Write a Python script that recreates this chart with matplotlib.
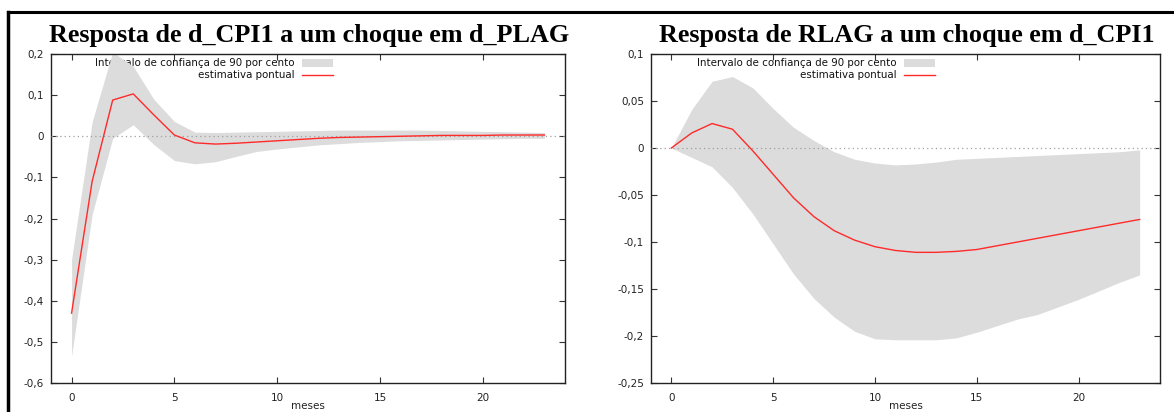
import matplotlib
matplotlib.use("Agg")
import matplotlib.pyplot as plt
from matplotlib.lines import Line2D
from matplotlib.patches import Rectangle
import numpy as np

# ---- data ----
meses = list(range(24))

# Left panel: Resposta de d_CPI1 a um choque em d_PLAG
cpi_est = [-0.430, -0.110, 0.088, 0.103, 0.052, 0.003, -0.016, -0.019, -0.017, -0.014,
           -0.011, -0.008, -0.005, -0.003, -0.002, -0.001, 0.000, 0.001, 0.002, 0.002,
           0.002, 0.003, 0.003, 0.003]
cpi_up = [-0.300, 0.035, 0.205, 0.170, 0.090, 0.036, 0.010, 0.009, 0.010, 0.011,
          0.012, 0.013, 0.014, 0.015, 0.015, 0.015, 0.015, 0.015, 0.014, 0.013,
          0.012, 0.011, 0.010, 0.009]
cpi_lo = [-0.535, -0.190, -0.005, 0.028, -0.020, -0.059, -0.067, -0.062, -0.049, -0.037,
          -0.031, -0.026, -0.021, -0.018, -0.015, -0.013, -0.011, -0.010, -0.009, -0.008,
          -0.007, -0.006, -0.005, -0.005]

# Right panel: Resposta de RLAG a um choque em d_CPI1
rlag_est = [0.000, 0.016, 0.026, 0.020, -0.003, -0.028, -0.053, -0.073, -0.088, -0.098,
            -0.105, -0.109, -0.111, -0.111, -0.110, -0.108, -0.104, -0.100, -0.096, -0.092,
            -0.088, -0.084, -0.080, -0.076]
rlag_up = [0.000, 0.041, 0.071, 0.076, 0.064, 0.042, 0.022, 0.008, -0.004, -0.012,
           -0.016, -0.018, -0.017, -0.015, -0.012, -0.011, -0.010, -0.009, -0.008, -0.007,
           -0.006, -0.005, -0.004, -0.002]
rlag_lo = [0.000, -0.010, -0.020, -0.042, -0.070, -0.102, -0.134, -0.160, -0.180, -0.195,
           -0.203, -0.204, -0.204, -0.204, -0.202, -0.196, -0.189, -0.182, -0.177, -0.169,
           -0.161, -0.152, -0.143, -0.135]

titles = ["Resposta de d_CPI1 a um choque em d_PLAG",
          "Resposta de RLAG a um choque em d_CPI1"]
left_yticks = [0.2, 0.1, 0, -0.1, -0.2, -0.3, -0.4, -0.5, -0.6]
left_ylabels = ["0,2", "0,1", "0", "-0,1", "-0,2", "-0,3", "-0,4", "-0,5", "-0,6"]
right_yticks = [0.1, 0.05, 0, -0.05, -0.1, -0.15, -0.2, -0.25]
right_ylabels = ["0,1", "0,05", "0", "-0,05", "-0,1", "-0,15", "-0,2", "-0,25"]
xticks = [0, 5, 10, 15, 20]
leg_band = "Intervalo de confiança de 90 por cento"
leg_line = "estimativa pontual"
xlabel = "meses"

W, H = 1174, 412
fig = plt.figure(figsize=(W / 100, H / 100), dpi=100)
fig.patch.set_facecolor("white")

band_color = "#dcdcdc"
red = "#ff2a2a"
tick_color = "#222222"

panels = [
    dict(rect=(51, 565), est=cpi_est, up=cpi_up, lo=cpi_lo, yt=left_yticks, yl=left_ylabels,
         ylim=(-0.6, 0.2), title=titles[0], txt_end=0.473, sw=(0.488, 0.548)),
    dict(rect=(651, 1160), est=rlag_est, up=rlag_up, lo=rlag_lo, yt=right_yticks, yl=right_ylabels,
         ylim=(-0.25, 0.1), title=titles[1], txt_end=0.483, sw=(0.498, 0.558)),
]

top_px, bot_px = 54, 383
for p in panels:
    x0, x1 = p["rect"]
    ax = fig.add_axes([x0 / W, 1 - bot_px / H, (x1 - x0) / W, (bot_px - top_px) / H])
    ax.set_xlim(-1, 24)
    ax.set_ylim(*p["ylim"])
    ax.fill_between(meses, p["lo"], p["up"], color=band_color, linewidth=0, zorder=2)
    ax.plot(meses, p["est"], color=red, linewidth=1.0, zorder=4)
    ax.axhline(0, color="#a0a0a0", linewidth=0.9, linestyle=(0, (1, 2.5)), zorder=3)
    ax.set_xticks(xticks)
    ax.set_xticklabels([str(t) for t in xticks])
    ax.set_yticks(p["yt"])
    ax.set_yticklabels(p["yl"])
    ax.tick_params(direction="in", length=4, width=0.8, top=True, right=True,
                   labelsize=7.5, labelcolor=tick_color, color="#333333", pad=5)
    ax.tick_params(axis="x", pad=7)
    for s in ax.spines.values():
        s.set_color("#222222")
        s.set_linewidth(1.0)
    # legend (drawn below the band, as in the reference)
    ax.text(p["txt_end"], 0.973, leg_band, transform=ax.transAxes, ha="right", va="center",
            fontsize=7.4, color="#111111", zorder=1)
    ax.text(p["txt_end"], 0.936, leg_line, transform=ax.transAxes, ha="right", va="center",
            fontsize=7.4, color="#111111", zorder=1)
    ax.add_patch(Rectangle((p["sw"][0], 0.960), p["sw"][1] - p["sw"][0], 0.026,
                           transform=ax.transAxes, color=band_color, linewidth=0, zorder=1))
    ax.add_line(Line2D([p["sw"][0], p["sw"][1]], [0.936, 0.936], transform=ax.transAxes,
                       color=red, linewidth=1.0, zorder=1))
    fig.text((x0 + x1) / 2 / W, 1.0 / H, xlabel, ha="center", va="bottom",
             fontsize=7.5, color=tick_color)
    fig.text((x0 + x1) / 2 / W + 1.5 / W, 1 - 42 / H, p["title"], ha="center", va="baseline",
             fontsize=18.8, fontweight="bold", family="Liberation Serif", color="black")

# page frame lines
fig.add_artist(Line2D([8 / W, 1.0], [1 - 12 / H, 1 - 12 / H], transform=fig.transFigure,
                      color="black", linewidth=2.2))
fig.add_artist(Line2D([8 / W, 8 / W], [1 - 12 / H, 0], transform=fig.transFigure,
                      color="black", linewidth=2.5))

fig.savefig("out.png", dpi=100)
